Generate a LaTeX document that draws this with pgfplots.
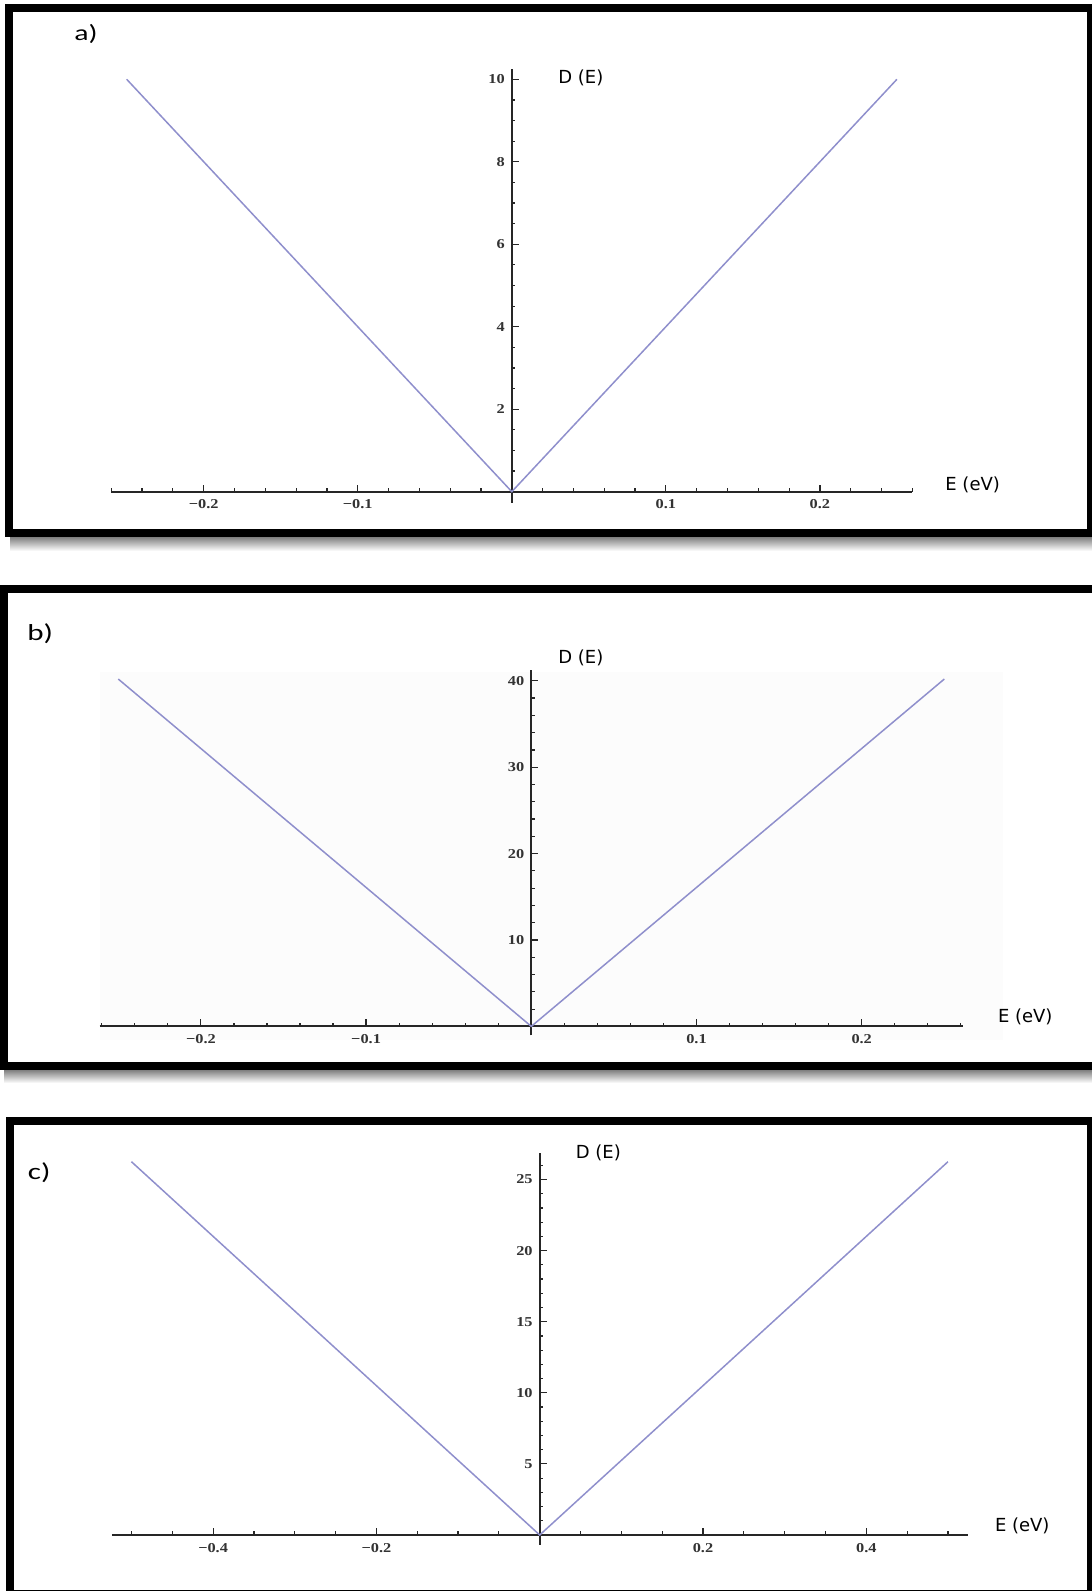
\documentclass[border=0pt]{standalone}
\usepackage{fontspec}
\usepackage{pgfplots}
\pgfplotsset{compat=1.18}
\newfontfamily\tickf[FakeStretch=1.2]{Liberation Serif}
\newfontfamily\labf{DejaVu Sans}
\newfontfamily\panf[FakeStretch=1.35]{Carlito}
\definecolor{curve}{rgb}{0.56,0.56,0.80}
\pgfplotsset{
  dosaxis/.style={
    axis lines=middle,
    clip=false,
    anchor=south west,
    axis line style={-, black!85, line width=0.9pt},
    every inner x axis line/.append style={-},
    every inner y axis line/.append style={-},
    tick align=inside,
    major tick length=3.5pt,
    minor tick length=1.8pt,
    tick style={black!85, line width=0.6pt},
    ticklabel style={font=\tickf\bfseries\fontsize{6.8}{8}\selectfont, text=black!80},
    xticklabel style={yshift=-0.5pt},
    /pgf/number format/assume math mode=true,
  }
}
\begin{document}
\begin{tikzpicture}
\useasboundingbox (0,0) rectangle (546pt,795.5pt);
\begin{scope}[x=0.5pt,y=-0.5pt,yshift=795.5pt]
  % panel frames and shadows
  \shade[top color=black!50, bottom color=white] (10,537) rectangle (1092,551);
  \shade[top color=black!50, bottom color=white] (4,1070) rectangle (1092,1083);
  \draw[line width=4pt] (9,8) rectangle (1091,533);
  \draw[line width=4pt] (3.6,589) rectangle (1100,1066);
  \draw[line width=4pt] (10.4,1121) rectangle (1091,1594);
  \fill[black!1.2] (100,672) rectangle (1003,1040);
  % panel letters
  \node[anchor=base west, inner sep=0pt, font=\panf\fontsize{11}{12}\selectfont] at (74,40.7) {a)};
  \node[anchor=base west, inner sep=0pt, font=\panf\fontsize{11.5}{13}\selectfont] at (27,640.5) {b)};
  \node[anchor=base west, inner sep=0pt, font=\panf\fontsize{11.5}{13}\selectfont] at (27.5,1180) {c)};
  % axis labels
  \node[anchor=west, inner sep=0pt, font=\labf\fontsize{9}{10}\selectfont] at (558,78) {D (E)};
  \node[anchor=west, inner sep=0pt, font=\labf\fontsize{9}{10}\selectfont] at (945,485) {E (eV)};
  \node[anchor=west, inner sep=0pt, font=\labf\fontsize{9}{10}\selectfont] at (558,657.6) {D (E)};
  \node[anchor=west, inner sep=0pt, font=\labf\fontsize{9}{10}\selectfont] at (997.6,1017) {E (eV)};
  \node[anchor=west, inner sep=0pt, font=\labf\fontsize{9}{10}\selectfont] at (575.4,1153) {D (E)};
  \node[anchor=west, inner sep=0pt, font=\labf\fontsize{9}{10}\selectfont] at (994.6,1525.4) {E (eV)};
\end{scope}

% panel a
\begin{axis}[dosaxis,
  at={({255.9pt-0.26*770.25pt},{549.65pt-0.27*20.62pt})},
  x=770.25pt, y=20.62pt,
  xmin=-0.26, xmax=0.26, ymin=-0.27, ymax=10.26,
  xtick={-0.2,-0.1,0.1,0.2},
  xticklabels={−0.2,−0.1,0.1,0.2},
  ytick={2,4,6,8,10},
  yticklabels={2,4,6,8,10},
  minor xtick={-0.26,-0.24,-0.22,-0.18,-0.16,-0.14,-0.12,-0.08,-0.06,-0.04,-0.02,0.02,0.04,0.06,0.08,0.12,0.14,0.16,0.18,0.22,0.24,0.26},
  minor ytick={0.5,1,1.5,2.5,3,3.5,4.5,5,5.5,6.5,7,7.5,8.5,9,9.5},
]
\addplot[curve, line width=0.75pt] coordinates {(-0.25,10) (0,0) (0.25,10)};
\end{axis}

% panel b
\begin{axis}[dosaxis,
  at={({265.65pt-0.2613*826pt},{282.3pt-1.04*4.32pt})},
  x=826pt, y=4.32pt,
  xmin=-0.2613, xmax=0.2613, ymin=-1.04, ymax=41.3,
  xtick={-0.2,-0.1,0.1,0.2},
  xticklabels={−0.2,−0.1,0.1,0.2},
  ytick={10,20,30,40},
  yticklabels={10,20,30,40},
  minor xtick={-0.26,-0.24,-0.22,-0.18,-0.16,-0.14,-0.12,-0.08,-0.06,-0.04,-0.02,0.02,0.04,0.06,0.08,0.12,0.14,0.16,0.18,0.22,0.24,0.26},
  minor ytick={2,4,6,8,12,14,16,18,22,24,26,28,32,34,36,38},
]
\addplot[curve, line width=0.75pt] coordinates {(-0.25,40.2) (0,0) (0.25,40.2)};
\end{axis}

% panel c
\begin{axis}[dosaxis,
  at={({269.85pt-0.524*408.25pt},{28pt-0.7*7.11pt})},
  x=408.25pt, y=7.11pt,
  xmin=-0.524, xmax=0.524, ymin=-0.7, ymax=26.84,
  xtick={-0.4,-0.2,0.2,0.4},
  xticklabels={−0.4,−0.2,0.2,0.4},
  ytick={5,10,15,20,25},
  yticklabels={5,10,15,20,25},
  minor xtick={-0.5,-0.45,-0.35,-0.3,-0.25,-0.15,-0.1,-0.05,0.05,0.1,0.15,0.25,0.3,0.35,0.45,0.5},
  minor ytick={1,2,3,4,6,7,8,9,11,12,13,14,16,17,18,19,21,22,23,24,26},
]
\addplot[curve, line width=0.75pt] coordinates {(-0.5,26.25) (0,0) (0.5,26.25)};
\end{axis}
\end{tikzpicture}
\end{document}
